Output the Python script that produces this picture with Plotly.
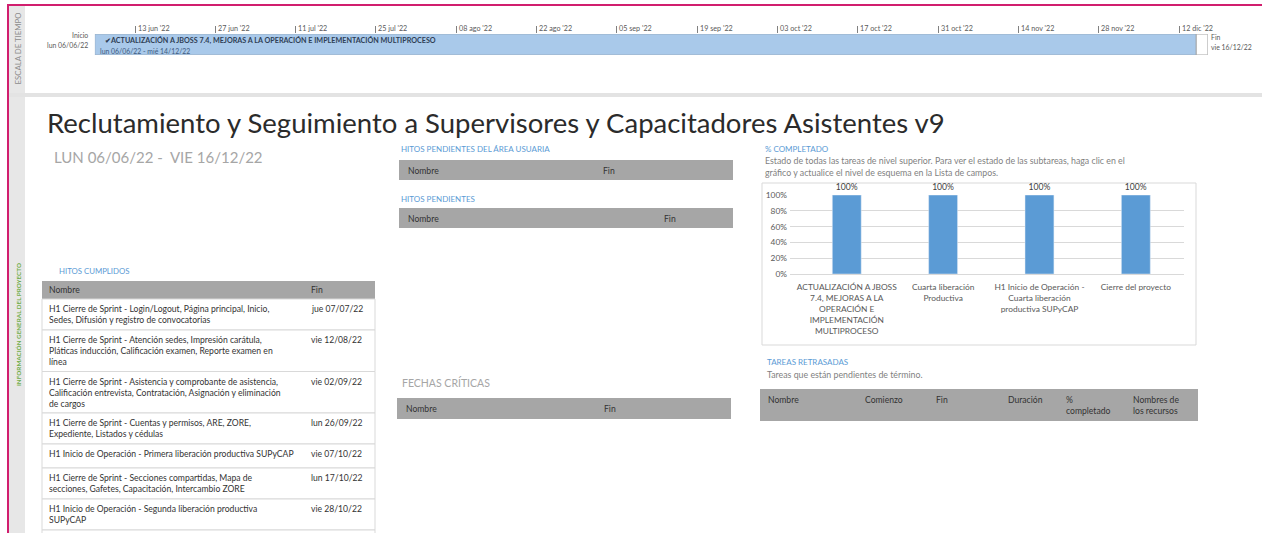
import pandas as pd
import plotly.graph_objects as go

W, H = 1262, 533
FONT = "Lato"

# ---------------- data ----------------
project_title = "Reclutamiento y Seguimiento a Supervisores y Capacitadores Asistentes v9"
project_range = "LUN 06/06/22 -  VIE 16/12/22"

task_name = "✔ACTUALIZACIÓN A JBOSS 7.4, MEJORAS A LA OPERACIÓN E IMPLEMENTACIÓN MULTIPROCESO"
task_dates = "lun 06/06/22 - mié 14/12/22"
task_start = "2022-06-06"
task_end = "2022-12-15"      # exclusive end of mié 14/12/22
project_end = "2022-12-17"   # exclusive end of vie 16/12/22
start_label = ["Inicio", "lun 06/06/22"]
end_label = ["Fin", "vie 16/12/22"]

timeline_ticks = ["2022-06-13", "2022-06-27", "2022-07-11", "2022-07-25", "2022-08-08",
                  "2022-08-22", "2022-09-05", "2022-09-19", "2022-10-03", "2022-10-17",
                  "2022-10-31", "2022-11-14", "2022-11-28", "2022-12-12"]
timeline_labels = ["13 jun '22", "27 jun '22", "11 jul '22", "25 jul '22", "08 ago '22",
                   "22 ago '22", "05 sep '22", "19 sep '22", "03 oct '22", "17 oct '22",
                   "31 oct '22", "14 nov '22", "28 nov '22", "12 dic '22"]

hitos_names = [
    "H1 Cierre de Sprint - Login/Logout, Página principal, Inicio,<br>Sedes, Difusión y registro de convocatorias",
    "H1 Cierre de Sprint - Atención sedes, Impresión carátula,<br>Pláticas inducción, Calificación examen, Reporte examen en<br>línea",
    "H1 Cierre de Sprint - Asistencia y comprobante de asistencia,<br>Calificación entrevista, Contratación, Asignación y eliminación<br>de cargos",
    "H1 Cierre de Sprint - Cuentas y permisos, ARE, ZORE,<br>Expediente, Listados y cédulas",
    "H1 Inicio de Operación - Primera liberación productiva SUPyCAP",
    "H1 Cierre de Sprint - Secciones compartidas, Mapa de<br>secciones, Gafetes, Capacitación, Intercambio ZORE",
    "H1 Inicio de Operación - Segunda liberación productiva<br>SUPyCAP",
    "H1 Cierre de Sprint - Integración de ZORE, Reportes y consultas",
]
hitos_fin = ["jue 07/07/22", "vie 12/08/22", "vie 02/09/22", "lun 26/09/22",
             "vie 07/10/22", "lun 17/10/22", "vie 28/10/22", "vie 11/11/22"]

pct_categories = [
    "ACTUALIZACIÓN A JBOSS<br>7.4, MEJORAS A LA<br>OPERACIÓN E<br>IMPLEMENTACIÓN<br>MULTIPROCESO",
    "Cuarta liberación<br>Productiva",
    "H1 Inicio de Operación -<br>Cuarta liberación<br>productiva SUPyCAP",
    "Cierre del proyecto",
]
pct_values = [100, 100, 100, 100]
pct_ticks = [0, 20, 40, 60, 80, 100]

retrasadas_cols = ["Nombre", "Comienzo", "Fin", "Duración", "%<br>completado", "Nombres de<br>los recursos"]

# ---------------- helpers ----------------
def px(x):
    return x / W

def py(y):
    return 1 - y / H

annotations = []
shapes = []

def text(t, x, y, size, color="#404040", xanchor="left", yanchor="middle",
         angle=0, xref="paper", family=FONT, xshift=0, align="left"):
    annotations.append(dict(
        text=t, x=x if xref != "paper" else px(x), y=py(y), xref=xref, yref="paper",
        xanchor=xanchor, yanchor=yanchor, showarrow=False, textangle=angle,
        font=dict(family=family, size=size, color=color), xshift=xshift, align=align,
        borderpad=0))

def rect(x0, y0, x1, y1, fill, line=None, lw=0):
    shapes.append(dict(type="rect", xref="paper", yref="paper",
                       x0=px(x0), x1=px(x1), y0=py(y0), y1=py(y1),
                       fillcolor=fill, line=dict(color=line or fill, width=lw), layer="below"))

BLUE = "#5B9BD5"
HEAD = "#A6A6A6"
GRAYTXT = "#7F7F7F"
CELL = 8.6
SEC = 8.0
DESC = 8.8

# ---------------- frame ----------------
rect(9, 5, 25, 533, "#E7E7E7")
rect(9, 93, 1262, 97, "#E3E3E3")
shapes.append(dict(type="line", xref="paper", yref="paper", x0=px(8), x1=px(8), y0=0, y1=py(4),
                   line=dict(color="#D11E6E", width=2)))
shapes.append(dict(type="line", xref="paper", yref="paper", x0=px(7), x1=1, y0=py(5), y1=py(5),
                   line=dict(color="#D11E6E", width=2)))
text("ESCALA DE TIEMPO", 17.5, 49, 7.8, "#8C8C8C", xanchor="center", angle=-90)
text("<b>INFORMACIÓN GENERAL DEL PROYECTO</b>", 18, 325, 6.3, "#70AD47", xanchor="center", angle=-90)

# ---------------- timeline ----------------
t0 = pd.Timestamp(task_start)
dur_task = (pd.Timestamp(task_end) - t0).total_seconds() * 1000
dur_tail = (pd.Timestamp(project_end) - pd.Timestamp(task_end)).total_seconds() * 1000

fig = go.Figure()
fig.add_trace(go.Bar(x=[dur_task], base=[task_start], y=[0], orientation="h", width=1,
                     marker=dict(color="#A9C9EA", line=dict(color="#9AAFC4", width=1)),
                     xaxis="x2", yaxis="y2", hoverinfo="skip", showlegend=False))
fig.add_trace(go.Bar(x=[dur_tail], base=[task_end], y=[0], orientation="h", width=1,
                     marker=dict(color="#FFFFFF", line=dict(color="#A6A6A6", width=1)),
                     xaxis="x2", yaxis="y2", hoverinfo="skip", showlegend=False))
for d, lab in zip(timeline_ticks, timeline_labels):
    text(lab, d, 28.5, 7.2, "#595959", xref="x2", xshift=1.5)
text("<b>" + task_name + "</b>", task_start, 41, 7.2, "#2F3E55", xref="x2", xshift=9)
text(task_dates, task_start, 51, 6.9, "#3D5A80", xref="x2", xshift=4)
text(start_label[0], 89, 35.5, 6.9, "#595959", xanchor="right")
text(start_label[1], 89, 45.5, 6.9, "#595959", xanchor="right")
text(end_label[0], 1210, 37, 6.9, "#595959")
text(end_label[1], 1210, 47.5, 6.9, "#595959")

# ---------------- title ----------------
text(project_title, 46, 122, 27.5, "#2B2B2B")
text(project_range, 53, 157, 15, "#A6A6A6")

# ---------------- hitos cumplidos table ----------------
text("HITOS CUMPLIDOS", 58, 271, 7.8, BLUE)
TX0, TX1, FINX = 42, 375, 310
rect(TX0, 281, TX1, 299, HEAD)
text("Nombre", 48, 290, CELL, "#333333")
text("Fin", FINX, 290, CELL, "#333333")
ROW_H = {1: 24.0, 2: 31.0, 3: 41.5}
y = 299.0
for name, fin in zip(hitos_names, hitos_fin):
    n = name.count("<br>") + 1
    h = ROW_H[n]
    rect(TX0, y, TX1, y + h, "#FFFFFF", "#D9D9D9", 1)
    text(name, 48, y + 10 - 5.65 + 11.3 * n / 2, CELL, "#333333")
    text(fin, FINX, y + 10, CELL, "#333333")
    y += h

# ---------------- middle tables ----------------
text("HITOS PENDIENTES DEL ÁREA USUARIA", 400, 149, SEC, BLUE)
rect(399, 160, 733, 180, HEAD)
text("Nombre", 407, 170.5, CELL, "#333333")
text("Fin", 602, 170.5, CELL, "#333333")

text("HITOS PENDIENTES", 400, 199, SEC, BLUE)
rect(399, 208, 733, 228, HEAD)
text("Nombre", 407, 218.5, CELL, "#333333")
text("Fin", 663, 218.5, CELL, "#333333")

text("FECHAS CRÍTICAS", 401, 383, 10.5, "#A6A6A6")
rect(397, 398, 731, 419, HEAD)
text("Nombre", 405, 408.5, CELL, "#333333")
text("Fin", 603, 408.5, CELL, "#333333")

# ---------------- % completado ----------------
text("% COMPLETADO", 764, 149, SEC, BLUE)
text("Estado de todas las tareas de nivel superior. Para ver el estado de las subtareas, haga clic en el",
     764, 160, DESC, GRAYTXT)
text("gráfico y actualice el nivel de esquema en la Lista de campos.", 764, 172.5, DESC, GRAYTXT)
rect(762, 183, 1196, 345, "#FFFFFF", "#D9D9D9", 1)

fig.add_trace(go.Bar(x=pct_categories, y=pct_values, width=0.3,
                     marker=dict(color="#5B9BD5"),
                     text=[f"{v}%" for v in pct_values], textposition="outside",
                     constraintext="none", cliponaxis=False,
                     textfont=dict(family=FONT, size=8.6, color="#404040"),
                     xaxis="x", yaxis="y", hoverinfo="skip", showlegend=False))

# ---------------- tareas retrasadas ----------------
text("TAREAS RETRASADAS", 766, 362, SEC, BLUE)
text("Tareas que están pendientes de término.", 766, 374, DESC, GRAYTXT)
rect(760, 389, 1198, 421, HEAD)
for col, cx in zip(retrasadas_cols, [767, 864, 935, 1007, 1065, 1132]):
    n = col.count("<br>") + 1
    text(col, cx, 400 + 5.75 * (n - 1), CELL, "#333333")

fig.update_layout(
    width=W, height=H, margin=dict(l=0, r=0, t=0, b=0, pad=0, autoexpand=False),
    paper_bgcolor="#FFFFFF", plot_bgcolor="#FFFFFF",
    barmode="overlay",
    annotations=annotations, shapes=shapes,
    xaxis=dict(domain=[px(790), px(1184)], anchor="y", range=[-0.589, 3.50],
               showline=True, linecolor="#D9D9D9", automargin=False,
               ticks="", tickfont=dict(family=FONT, size=8.4, color="#595959"),
               ticklabelstandoff=5, tickangle=0, fixedrange=True),
    yaxis=dict(domain=[py(274), py(195)], anchor="x", range=[0, 100], tickvals=pct_ticks,
               ticktext=[f"{v}%" for v in pct_ticks], ticklabelstandoff=2, automargin=False,
               showgrid=True, gridcolor="#D9D9D9", zeroline=False,
               tickfont=dict(family=FONT, size=8.4, color="#595959"), fixedrange=True),
    xaxis2=dict(domain=[px(94.85), px(1207.7)], anchor="y2", type="date", automargin=False,
                range=[task_start, project_end], side="top", ticks="outside", ticklen=7,
                tickcolor="#808080", tickwidth=1, tickvals=timeline_ticks,
                showticklabels=False, showgrid=False, showline=False, zeroline=False),
    yaxis2=dict(domain=[py(55), py(34)], anchor="x2", range=[-0.5, 0.5], visible=False,
                automargin=False),
)

post = ("document.body.style.margin='0';document.body.style.padding='0';"
        "document.body.style.overflow='hidden';"
        "var d=document.getElementById('{plot_id}');"
        "d.style.position='absolute';d.style.left='0px';d.style.top='0px';")
fig.write_html("out.html", post_script=post, config={"displayModeBar": False})
